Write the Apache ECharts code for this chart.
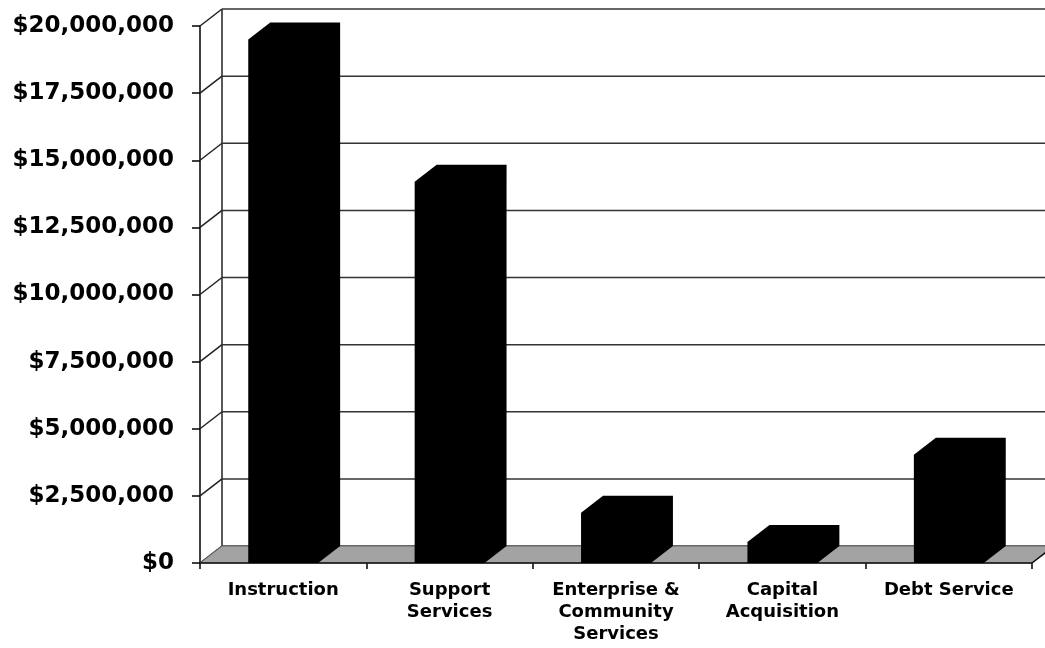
<!DOCTYPE html>
<html>
<head>
<meta charset="utf-8">
<script src="https://cdn.jsdelivr.net/npm/echarts@6/dist/echarts.min.js"></script>
<style>
html,body{margin:0;padding:0;background:#fff;}
#chart{width:1045px;height:648px;}
</style>
</head>
<body>
<div id="chart"></div>
<script>
const categories = ['Instruction', 'Support\nServices', 'Enterprise &\nCommunity\nServices', 'Capital\nAcquisition', 'Debt Service'];
const values = [19500000, 14200000, 1870000, 780000, 4030000];
const yTicks = [0, 2500000, 5000000, 7500000, 10000000, 12500000, 15000000, 17500000, 20000000];
const yMin = 0, yMax = 20000000, yStep = 2500000;

const DX = 22, DY = 17;
const chart = echarts.init(document.getElementById('chart'));

function leftEdge(api, v) {
  const c = api.coord([0, v]);
  return c[0] - api.size([1, 0])[0] / 2;
}

const option = {
  animation: false,
  grid: { left: 200, right: 13, top: 26, bottom: 85, containLabel: false },
  xAxis: {
    type: 'category',
    data: categories,
    axisLine: { show: false },
    axisTick: { show: true, length: 6, lineStyle: { color: '#000', width: 1.5 } },
    axisLabel: {
      interval: 0, margin: 16, color: '#000',
      fontFamily: 'DejaVu Sans', fontWeight: 'bold', fontSize: 18, lineHeight: 22
    }
  },
  yAxis: {
    type: 'value', min: yMin, max: yMax, interval: yStep,
    axisLine: { show: true, lineStyle: { color: '#000', width: 1.5 } },
    axisTick: { show: true, length: 8, lineStyle: { color: '#000', width: 1.5 } },
    splitLine: { show: false },
    axisLabel: {
      margin: 26, color: '#000',
      fontFamily: 'DejaVu Sans', fontWeight: 'bold', fontSize: 23,
      formatter: v => '$' + Math.round(v).toLocaleString('en-US')
    }
  },
  series: [
    {
      type: 'custom', name: 'walls', z: 1, silent: true,
      data: yTicks.map(v => [0, v]),
      renderItem: function (params, api) {
        const v = api.value(1);
        const y = api.coord([0, v])[1];
        const L = leftEdge(api, v);
        const W = api.getWidth();
        const children = [
          { type: 'line', shape: { x1: L, y1: y, x2: L + DX, y2: y - DY },
            style: { stroke: '#222', lineWidth: 1.5 } },
          { type: 'line', shape: { x1: L + DX, y1: y - DY, x2: W, y2: y - DY },
            style: { stroke: '#333', lineWidth: 1.5 } }
        ];
        if (params.dataIndex === 0) {
          const yTop = api.coord([0, yMax])[1];
          children.push({ type: 'line', shape: { x1: L + DX, y1: y - DY, x2: L + DX, y2: yTop - DY },
            style: { stroke: '#222', lineWidth: 1.5 } });
        }
        return { type: 'group', children: children };
      }
    },
    {
      type: 'custom', name: 'floor', z: 2, silent: true,
      data: [[0, 0]],
      renderItem: function (params, api) {
        const y = api.coord([0, 0])[1];
        const band = api.size([1, 0])[0];
        const L = api.coord([0, 0])[0] - band / 2;
        const R = api.coord([categories.length - 1, 0])[0] + band / 2;
        return {
          type: 'group', children: [
            { type: 'polygon', shape: { points: [[L, y], [R, y], [R + DX, y - DY], [L + DX, y - DY]] },
              style: { fill: '#a3a3a3', stroke: '#666', lineWidth: 1 } },
            { type: 'line', shape: { x1: L, y1: y, x2: R, y2: y },
              style: { stroke: '#111', lineWidth: 1.5 } },
            { type: 'line', shape: { x1: R, y1: y, x2: R + DX, y2: y - DY },
              style: { stroke: '#111', lineWidth: 1.5 } }
          ]
        };
      }
    },
    {
      type: 'custom', name: 'Expenditures', z: 3,
      data: values.map((v, i) => [i, v]),
      renderItem: function (params, api) {
        const i = api.value(0), v = api.value(1);
        const top = api.coord([i, v]);
        const bot = api.coord([i, 0]);
        const w = api.size([1, 0])[0] * 0.42;
        const x0 = top[0] - w / 2, x1 = top[0] + w / 2;
        const yt = top[1], yb = bot[1];
        return {
          type: 'polygon',
          shape: { points: [[x0, yb], [x0, yt], [x0 + DX, yt - DY], [x1 + DX, yt - DY], [x1 + DX, yb - DY], [x1, yb]] },
          style: { fill: '#000', stroke: null, lineWidth: 0 }
        };
      }
    }
  ]
};
chart.setOption(option);
</script>
</body>
</html>
